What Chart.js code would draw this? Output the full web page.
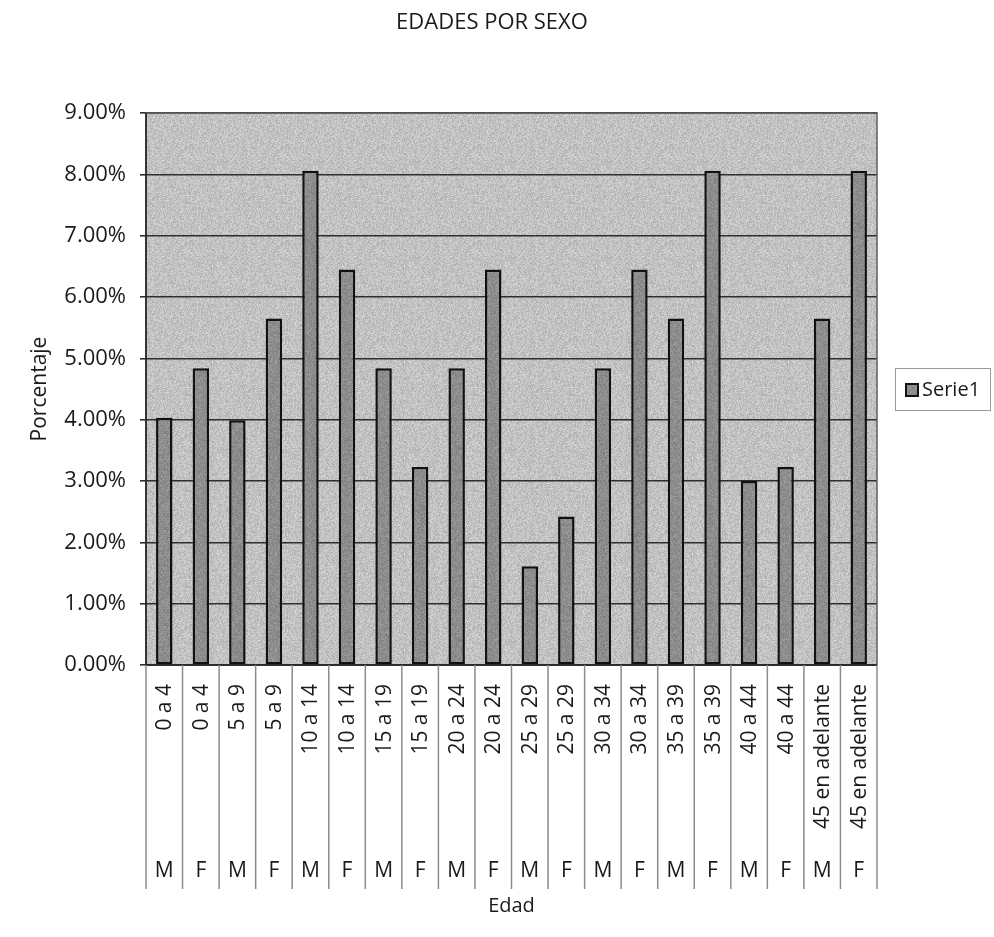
<!DOCTYPE html>
<html>
<head>
<meta charset="utf-8">
<title>Edades por sexo</title>
<script src="https://cdn.jsdelivr.net/npm/chart.js@4.4.1/dist/chart.umd.min.js"></script>
<style>
  html, body { margin: 0; padding: 0; background: #ffffff; }
  #wrap { width: 994px; height: 937px; }
</style>
</head>
<body>
<div id="wrap"><canvas id="chart" width="994" height="937"></canvas></div>
<script>
// Age range of each bar and the sex it belongs to (two-level category axis)
const ageRanges = [
  '0 a 4', '0 a 4', '5 a 9', '5 a 9', '10 a 14', '10 a 14',
  '15 a 19', '15 a 19', '20 a 24', '20 a 24', '25 a 29', '25 a 29',
  '30 a 34', '30 a 34', '35 a 39', '35 a 39', '40 a 44', '40 a 44',
  '45 en adelante', '45 en adelante'
];
const sexes = ['M', 'F', 'M', 'F', 'M', 'F', 'M', 'F', 'M', 'F',
               'M', 'F', 'M', 'F', 'M', 'F', 'M', 'F', 'M', 'F'];

// Share of people in each group, in percent
const percentages = [
  4.03, 4.84, 3.99, 5.65, 8.06, 6.45, 4.84, 3.23, 4.84, 6.45,
  1.61, 2.42, 4.84, 6.45, 5.65, 8.06, 3.00, 3.23, 5.65, 8.06
];

const seriesName = 'Serie1';
const chartTitle = 'EDADES POR SEXO';
const xTitle = 'Edad';
const yTitle = 'Porcentaje';

const FONT = '"Open Sans", "DejaVu Sans", sans-serif';
const TEXT = '#1a1a1a';

// Small speckled grey tile used as a textured fill (fixed-seed generator)
function speckle(base, spread, seed) {
  const size = 96;
  const c = document.createElement('canvas');
  c.width = c.height = size;
  const g = c.getContext('2d');
  const img = g.createImageData(size, size);
  let s = seed;
  for (let i = 0; i < size * size; i++) {
    s = (s * 1103515245 + 12345) & 0x7fffffff;
    const v = base + ((s >> 8) % (2 * spread + 1)) - spread;
    img.data[i * 4] = img.data[i * 4 + 1] = img.data[i * 4 + 2] = v;
    img.data[i * 4 + 3] = 255;
  }
  g.putImageData(img, 0, 0);
  return g.createPattern(c, 'repeat');
}

const ctx = document.getElementById('chart').getContext('2d');
const plotFill = speckle(194, 20, 7);
const barFill = speckle(141, 16, 31);

// Textured fill behind the plot area
const plotBackground = {
  id: 'plotBackground',
  beforeDraw(chart) {
    const { ctx, chartArea: a } = chart;
    ctx.save();
    ctx.fillStyle = plotFill;
    ctx.fillRect(a.left, a.top, a.right - a.left, a.bottom - a.top);
    ctx.restore();
  }
};

// Frame around the plot area
const plotFrame = {
  id: 'plotFrame',
  afterDatasetsDraw(chart) {
    const { ctx, chartArea: a } = chart;
    ctx.save();
    ctx.strokeStyle = '#5e5e5e';
    ctx.lineWidth = 1.5;
    ctx.strokeRect(a.left, a.top, a.right - a.left, a.bottom - a.top);
    ctx.strokeStyle = '#1e1e1e';
    ctx.lineWidth = 1.5;
    ctx.beginPath();
    ctx.moveTo(a.left, a.top);
    ctx.lineTo(a.left, a.bottom);
    ctx.lineTo(a.right, a.bottom);
    ctx.stroke();
    ctx.restore();
  }
};

// Chart title centred across the full canvas
const pageTitle = {
  id: 'pageTitle',
  afterDraw(chart) {
    const { ctx, width } = chart;
    ctx.save();
    ctx.fillStyle = TEXT;
    ctx.font = '22px ' + FONT;
    ctx.textAlign = 'center';
    ctx.textBaseline = 'middle';
    ctx.fillText(chartTitle, width / 2 - 5, 23);
    ctx.restore();
  }
};

// Two-level category labels: rotated age range above, sex letter below,
// separated by vertical lines between categories
const categoryLabels = {
  id: 'categoryLabels',
  afterDraw(chart) {
    const { ctx, chartArea: a } = chart;
    const x = chart.scales.x;
    const n = ageRanges.length;
    const half = (x.getPixelForValue(1) - x.getPixelForValue(0)) / 2;
    const sepBottom = 889;
    ctx.save();
    ctx.strokeStyle = '#8c8c8c';
    ctx.lineWidth = 1.5;
    for (let i = 0; i <= n; i++) {
      const px = i < n ? x.getPixelForValue(i) - half : x.getPixelForValue(n - 1) + half;
      ctx.beginPath();
      ctx.moveTo(px, a.bottom);
      ctx.lineTo(px, sepBottom);
      ctx.stroke();
    }
    ctx.fillStyle = TEXT;
    ctx.font = '21px ' + FONT;
    for (let i = 0; i < n; i++) {
      const cx = x.getPixelForValue(i);
      ctx.save();
      ctx.translate(cx, a.bottom + 19);
      ctx.rotate(-Math.PI / 2);
      ctx.textAlign = 'right';
      ctx.textBaseline = 'middle';
      ctx.fillText(ageRanges[i], 0, 1);
      ctx.restore();
      ctx.textAlign = 'center';
      ctx.textBaseline = 'middle';
      ctx.fillText(sexes[i], cx, 871);
    }
    ctx.restore();
  }
};

// Boxed legend to the right of the plot
const boxedLegend = {
  id: 'boxedLegend',
  afterDraw(chart) {
    const { ctx } = chart;
    const ds = chart.data.datasets[0];
    const left = 895, top = 368, w = 96, h = 43;
    ctx.save();
    ctx.fillStyle = '#ffffff';
    ctx.fillRect(left, top, w, h);
    ctx.strokeStyle = '#9a9a9a';
    ctx.lineWidth = 1;
    ctx.strokeRect(left + 0.5, top + 0.5, w - 1, h - 1);
    ctx.fillStyle = ds.backgroundColor;
    ctx.fillRect(906, 384, 12, 12);
    ctx.strokeStyle = '#111';
    ctx.lineWidth = 2;
    ctx.strokeRect(906, 384, 12, 12);
    ctx.fillStyle = TEXT;
    ctx.font = '20px ' + FONT;
    ctx.textAlign = 'left';
    ctx.textBaseline = 'middle';
    ctx.fillText(ds.label, 922, 390);
    ctx.restore();
  }
};

new Chart(ctx, {
  type: 'bar',
  data: {
    labels: ageRanges.map((r, i) => r + ' ' + sexes[i]),
    datasets: [{
      label: seriesName,
      data: percentages,
      backgroundColor: barFill,
      borderColor: '#111111',
      borderWidth: 2.5,
      borderSkipped: false,
      barPercentage: 0.45,
      categoryPercentage: 1.0
    }]
  },
  options: {
    responsive: false,
    animation: false,
    devicePixelRatio: 1,
    layout: { padding: { left: 0, right: 117, top: 113, bottom: 0 } },
    plugins: {
      legend: { display: false },
      tooltip: { enabled: false },
      title: { display: false }
    },
    scales: {
      x: {
        grid: { display: false },
        border: { display: false },
        ticks: { display: false },
        title: {
          display: true,
          text: xTitle,
          color: TEXT,
          font: { family: FONT, size: 20 },
          padding: { top: 221, bottom: 19 }
        }
      },
      y: {
        min: 0,
        max: 9,
        afterFit(scale) { scale.width = 146; },
        ticks: {
          stepSize: 1,
          color: TEXT,
          padding: 14,
          font: { family: FONT, size: 22 },
          callback: (v) => Number(v).toFixed(2) + '%'
        },
        grid: { color: '#2e2e2e', lineWidth: 1.6, tickLength: 6, drawTicks: true },
        border: { display: false },
        title: {
          display: true,
          text: yTitle,
          color: TEXT,
          font: { family: FONT, size: 21 },
          padding: { top: 27, bottom: 0 }
        }
      }
    }
  },
  plugins: [plotBackground, plotFrame, pageTitle, categoryLabels, boxedLegend]
});
</script>
</body>
</html>
